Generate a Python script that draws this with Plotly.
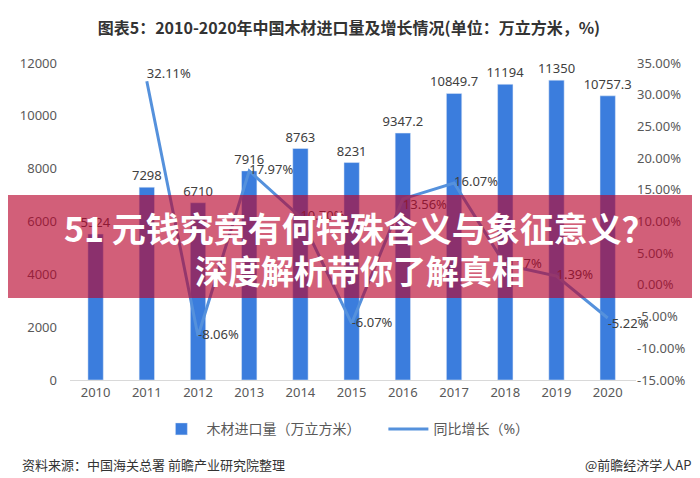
import plotly.graph_objects as go

years = ["2010", "2011", "2012", "2013", "2014", "2015", "2016", "2017", "2018", "2019", "2020"]
imports = [5524, 7298, 6710, 7916, 8763, 8231, 9347.2, 10849.7, 11194, 11350, 10757.3]
import_labels = ["5524", "7298", "6710", "7916", "8763", "8231", "9347.2", "10849.7", "11194", "11350", "10757.3"]
growth_years = years[1:]
growth = [32.11, -8.06, 17.97, 10.70, -6.07, 13.56, 16.07, 3.17, 1.39, -5.22]
growth_labels = ["32.11%", "-8.06%", "17.97%", "10.70%", "-6.07%", "13.56%", "16.07%", "3.17%", "1.39%", "-5.22%"]
growth_pos = ["top right", "middle right", "middle right", "middle right", "middle right",
              "bottom right", "middle right", "middle right", "middle right", "bottom right"]

left_ticks = [0, 2000, 4000, 6000, 8000, 10000, 12000]
left_tick_text = [str(v) for v in left_ticks]
right_ticks = [-15, -10, -5, 0, 5, 10, 15, 20, 25, 30, 35]
right_tick_text = [f"{v:.2f}%" for v in right_ticks]

FONT = "Noto Sans, Noto Sans CJK SC, sans-serif"
GRAY = "#595959"

fig = go.Figure()
fig.add_trace(go.Bar(
    x=years, y=imports, name="木材进口量（万立方米）",
    marker_color="#3b7ddd", text=import_labels, textposition="outside",
    constraintext="none",
    textfont=dict(size=13, color="#404040", family=FONT), cliponaxis=False,
))
fig.add_trace(go.Scatter(
    x=growth_years, y=growth, name="同比增长（%）", yaxis="y2", mode="lines+text",
    line=dict(color="#5591dc", width=3), text=growth_labels, textposition=growth_pos,
    textfont=dict(size=13, color="#404040", family=FONT), cliponaxis=False,
))

fig.update_layout(
    width=700, height=478,
    margin=dict(l=58, r=72, t=55, b=106),
    paper_bgcolor="white", plot_bgcolor="white",
    font=dict(family=FONT, color=GRAY, size=13),
    bargap=0.7,
    showlegend=True,
    legend=dict(orientation="h", x=(145 - 58) / 570, xanchor="left", y=-0.105, yanchor="top",
                font=dict(size=14, color=GRAY, family=FONT), itemwidth=40,
                entrywidth=172, entrywidthmode="pixels",
                traceorder="normal"),
    xaxis=dict(showgrid=False, showline=True, linecolor="#d9d9d9", linewidth=1,
               ticks="", tickfont=dict(size=13, color=GRAY)),
    yaxis=dict(range=[0, 12000], tickvals=left_ticks, ticktext=left_tick_text,
               showgrid=False, zeroline=False,
               showline=False, tickfont=dict(size=13, color=GRAY), ticklabelstandoff=12),
    yaxis2=dict(range=[-15, 35], tickvals=right_ticks, ticktext=right_tick_text,
                overlaying="y", side="right", showgrid=False, zeroline=False,
                showline=False, tickfont=dict(size=13, color=GRAY)),
    title=dict(text="<b>图表5：2010-2020年中国木材进口量及增长情况(单位：万立方米，%)</b>",
               x=0.487, xanchor="center", y=1 - 20 / 478, yanchor="middle",
               font=dict(size=16, color="#333333", family="Noto Sans CJK SC")),
)

# banner overlay
fig.add_shape(type="rect", xref="paper", yref="paper",
              x0=-0.12, x1=1.15, y0=(372 - 290) / 317, y1=(372 - 187) / 317,
              fillcolor="rgba(185,5,45,0.64)", line=dict(width=0), layer="above")
fig.add_annotation(xref="paper", yref="paper", x=(350 - 58) / 570, y=(372 - 219) / 317,
                   text="<b>51 元钱究竟有何特殊含义与象征意义？</b>", showarrow=False,
                   font=dict(size=34, color="white", family="Noto Sans CJK SC"),
                   xanchor="center", yanchor="middle")
fig.add_annotation(xref="paper", yref="paper", x=(350 - 58) / 570, y=(372 - 262) / 317,
                   text="<b>深度解析带你了解真相</b>", showarrow=False,
                   font=dict(size=33, color="white", family="Noto Sans CJK SC"),
                   xanchor="center", yanchor="middle")

# footer
fig.add_annotation(xref="paper", yref="paper", x=-50 / 570, y=-(456 - 372) / 317,
                   text="资料来源：中国海关总署 前瞻产业研究院整理", showarrow=False,
                   font=dict(size=13, color="#333333", family="Noto Sans CJK SC"),
                   xanchor="left", yanchor="middle")
fig.add_annotation(xref="paper", yref="paper", x=(694 - 58) / 570, y=-(456 - 372) / 317,
                   text="@前瞻经济学人APP", showarrow=False,
                   font=dict(size=13, color="#333333", family="Noto Sans CJK SC"),
                   xanchor="right", yanchor="middle")

fig.write_html("out.html")
